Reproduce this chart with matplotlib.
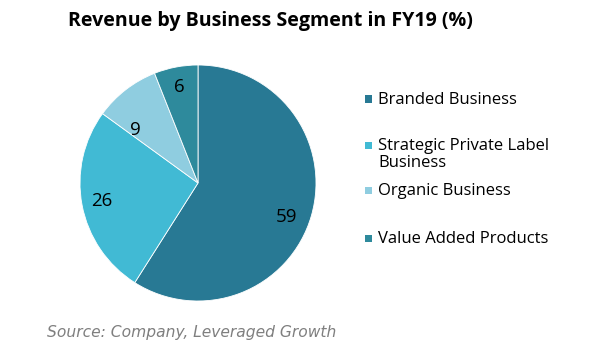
import numpy as np
import matplotlib.pyplot as plt
from matplotlib.patches import Rectangle

segments = ['Branded Business', 'Strategic Private Label\nBusiness',
            'Organic Business', 'Value Added Products']
shares = [59, 26, 9, 6]
colors = ['#287994', '#41BAD4', '#8FCDE0', '#2E8A9C']

# label placement tweaks (radius fraction, angle nudge in degrees)
label_r = [0.80, 0.83, 0.69, 0.83]
label_nudge = [-5, 0, 12, 0]
# legend rows, pixel y of the first text line (excel spaces them unevenly)
legend_y = [99, 145, 190, 238]

plt.rcParams['font.family'] = ['Open Sans', 'DejaVu Sans']

W, H = 600, 353
fig = plt.figure(figsize=(6, 3.53), dpi=100)
ax = fig.add_axes([80 / W, 52 / H, 236 / W, 236 / H])

wedges, _ = ax.pie(shares, colors=colors, startangle=90, counterclock=False,
                   wedgeprops=dict(edgecolor='white', linewidth=0.6))
ax.set_aspect('equal')
ax.set_xlim(-1, 1)
ax.set_ylim(-1, 1)

for w, v, r, d in zip(wedges, shares, label_r, label_nudge):
    ang = np.deg2rad((w.theta1 + w.theta2) / 2 + d)
    ax.text(r * np.cos(ang), r * np.sin(ang), str(v), ha='center', va='center',
            fontsize=13.5, color='black')

fig.text(68 / W, 1 - 21 / H, 'Revenue by Business Segment in FY19 (%)',
         fontsize=14.1, fontweight='bold', ha='left', va='center')

# legend by hand
for name, c, y in zip(segments, colors, legend_y):
    fig.patches.append(Rectangle((365 / W, 1 - (y + 4) / H), 7.5 / W, 7.5 / H,
                                 transform=fig.transFigure, facecolor=c, edgecolor='none'))
    fig.text(378 / W, 1 - (y - 7) / H, name, fontsize=12, ha='left', va='top',
             linespacing=1.12)

fig.text(47 / W, 1 - 332 / H, 'Source: Company, Leveraged Growth',
         fontsize=11.2, style='italic', color='#7F7F7F', ha='left', va='center',
         family='DejaVu Sans')

fig.savefig('out.png', dpi=100)
